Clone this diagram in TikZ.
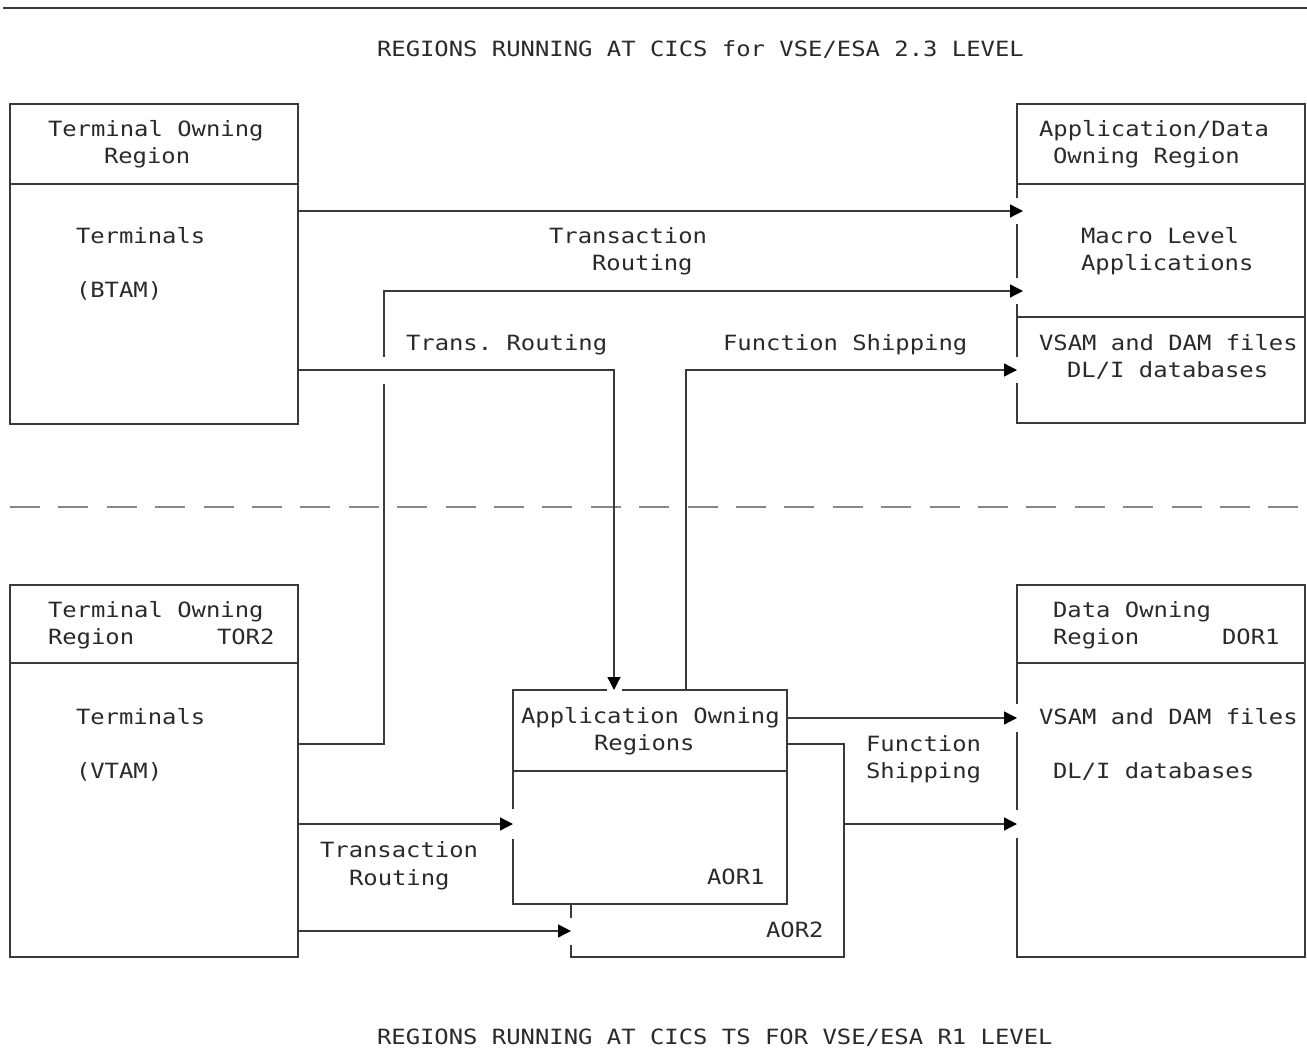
\documentclass[tikz,border=0pt]{standalone}
\usepackage{fontspec}
\usetikzlibrary{arrows.meta,calc}
\newfontfamily\monofnt[FakeStretch=1.137]{DejaVu Sans Mono}
\definecolor{ln}{HTML}{3A3A3A}
\definecolor{tx}{HTML}{2A2A2A}
\frenchspacing
\tikzset{
  box/.style={draw=ln, line width=1.3pt, anchor=north west, inner sep=0pt, outer sep=0pt},
  lbl/.style={anchor=base west, inner sep=0pt, outer sep=0pt, text=tx, font=\monofnt\fontsize{21pt}{25pt}\selectfont\frenchspacing},
  conn/.style={draw=ln, line width=1.3pt},
  arr/.style={conn, -{Triangle[length=13pt,width=13pt,color=black]}},
  gap/.style={fill=white, draw=none}
}
\begin{document}
\begin{tikzpicture}[x=1pt,y=-1pt]
\useasboundingbox (0,0) rectangle (1307,1048);
% top rule and separator
\draw[ln, line width=2.5pt] (3,8) -- (1307,8);
\draw[black!47, line width=2pt, dash pattern=on 30pt off 18.4pt] (10,507) -- (1307,507);

% boxes
\node[box, minimum width=288pt, minimum height=320pt] (tor1) at (10,104) {};
\node[box, minimum width=288pt, minimum height=319pt] (ador) at (1017,104) {};
\node[box, minimum width=288pt, minimum height=372pt] (tor2) at (10,585) {};
\node[box, minimum width=288pt, minimum height=372pt] (dor1) at (1017,585) {};
\node[box, minimum width=273pt, minimum height=213pt] (aor2) at (571,744) {};
\node[box, fill=white, minimum width=274pt, minimum height=214pt] (aor1) at (513,690) {};

% dividers
\draw[conn] ($(tor1.north west)+(0,80)$) -- ($(tor1.north east)+(0,80)$);
\draw[conn] ($(ador.north west)+(0,80)$) -- ($(ador.north east)+(0,80)$);
\draw[conn] ($(ador.north west)+(0,213)$) -- ($(ador.north east)+(0,213)$);
\draw[conn] ($(tor2.north west)+(0,78)$) -- ($(tor2.north east)+(0,78)$);
\draw[conn] ($(dor1.north west)+(0,78)$) -- ($(dor1.north east)+(0,78)$);
\draw[conn] ($(aor1.north west)+(0,81)$) -- ($(aor1.north east)+(0,81)$);

% gaps in box edges where arrows enter
\fill[gap] (1012,198) rectangle (1022,224);
\fill[gap] (1012,278) rectangle (1022,304);
\fill[gap] (1012,357) rectangle (1022,383);
\fill[gap] (606.5,686) rectangle (621.5,695);
\fill[gap] (508,809) rectangle (518,839);
\fill[gap] (566,917.5) rectangle (576,944.5);
\fill[gap] (1012,704) rectangle (1022,732);
\fill[gap] (1012,810) rectangle (1022,838);

% connectors, upper part
\coordinate (k1) at (384,291);
\draw[arr] ($(tor1.north east)+(0,107)$) -- ($(ador.north west)+(6,107)$);
\draw[arr] ($(tor2.north east)+(0,159)$) -| (k1) -- ($(ador.north west)+(6,187)$);
\fill[gap] (379,357) rectangle (389,384);
\draw[arr] ($(tor1.north east)+(0,266)$) -| ($(aor1.north west)+(101,0)$);
\draw[arr] ($(aor1.north west)+(173,0)$) |- ($(ador.north west)+(0,266)$);

% connectors, lower part
\draw[arr] ($(aor1.north east)+(0,28)$) -- ($(dor1.north west)+(0,133)$);
\draw[arr] ($(aor2.north east)+(0,80)$) -- ($(dor1.north west)+(0,239)$);
\draw[arr] ($(tor2.north east)+(0,239)$) -- ($(aor1.north west)+(0,134)$);
\draw[arr] ($(tor2.north east)+(0,346)$) -- ($(aor2.north west)+(0,187)$);

% texts
\node[lbl] (title1) at (377,57) {REGIONS RUNNING AT CICS for VSE/ESA 2.3 LEVEL};
\node[lbl] (title2) at (377,1044) {REGIONS RUNNING AT CICS TS FOR VSE/ESA R1 LEVEL};

\node[lbl] (tor1a) at (48,137) {Terminal Owning};
\node[lbl] (tor1b) at (104,164) {Region};
\node[lbl] (tor1c) at (76,244) {Terminals};
\node[lbl] (tor1d) at (76,298) {(BTAM)};

\node[lbl] (adora) at (1039,137) {Application/Data};
\node[lbl] (adorb) at (1053,164) {Owning Region};
\node[lbl] (adorc) at (1081,244) {Macro Level};
\node[lbl] (adord) at (1081,271) {Applications};
\node[lbl] (adore) at (1039,351) {VSAM and DAM files};
\node[lbl] (adorf) at (1067,378) {DL/I databases};

\node[lbl] (trA) at (549,244) {Transaction};
\node[lbl] (trB) at (592,271) {Routing};
\node[lbl] (trC) at (406,351) {Trans. Routing};
\node[lbl] (fsA) at (723,351) {Function Shipping};

\node[lbl] (tor2a) at (48,617) {Terminal Owning};
\node[lbl] (tor2b) at (48,644) {Region};
\node[lbl] (tor2c) at (217,644) {TOR2};
\node[lbl] (tor2d) at (76,724) {Terminals};
\node[lbl] (tor2e) at (76,778) {(VTAM)};

\node[lbl] (aora) at (521,723) {Application Owning};
\node[lbl] (aorb) at (594,750) {Regions};
\node[lbl] (aorc) at (707,884) {AOR1};
\node[lbl] (aord) at (766,937) {AOR2};

\node[lbl] (fsB) at (866,751) {Function};
\node[lbl] (fsC) at (866,778) {Shipping};
\node[lbl] (trD) at (320,857) {Transaction};
\node[lbl] (trE) at (349,885) {Routing};

\node[lbl] (dora) at (1053,617) {Data Owning};
\node[lbl] (dorb) at (1053,644) {Region};
\node[lbl] (dorc) at (1222,644) {DOR1};
\node[lbl] (dord) at (1039,724) {VSAM and DAM files};
\node[lbl] (dore) at (1053,778) {DL/I databases};
\end{tikzpicture}
\end{document}
